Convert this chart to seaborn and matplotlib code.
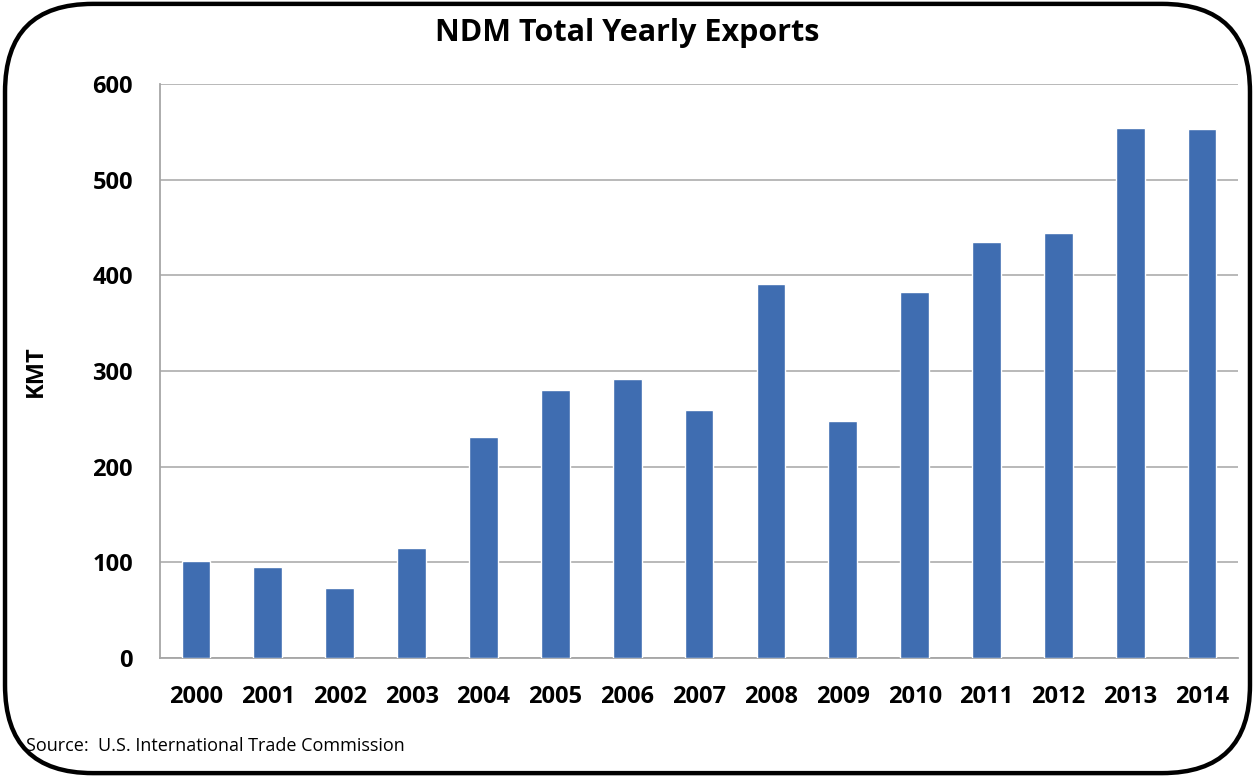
import matplotlib
matplotlib.use('Agg')
import matplotlib.pyplot as plt
import seaborn as sns
import pandas as pd
from matplotlib.patches import FancyBboxPatch

years = ['2000', '2001', '2002', '2003', '2004', '2005', '2006', '2007',
         '2008', '2009', '2010', '2011', '2012', '2013', '2014']
kmt = [101, 95, 73, 115, 231, 280, 292, 259, 391, 248, 383, 435, 444, 554, 553]
y_ticks = [0, 100, 200, 300, 400, 500, 600]

df = pd.DataFrame({'Year': years, 'KMT': kmt})

sns.set_style('white')
plt.rcParams['font.family'] = ['Open Sans', 'DejaVu Sans']
plt.rcParams['text.color'] = 'black'
plt.rcParams['xtick.color'] = 'black'
plt.rcParams['ytick.color'] = 'black'
plt.rcParams['axes.labelcolor'] = 'black'

fig = plt.figure(figsize=(12.55, 7.77), dpi=100)
ax = fig.add_axes([0.1275, 0.1532, 0.859, 0.7387])

sns.barplot(data=df, x='Year', y='KMT', color='#3F6DB1', width=0.4,
            saturation=1, ax=ax, zorder=3)

ax.set_ylim(0, 600)
ax.set_yticks(y_ticks)
ax.set_yticklabels([str(t) for t in y_ticks], fontsize=17, fontweight='bold')
ax.set_xticks(range(len(years)))
ax.set_xticklabels(years, fontsize=17, fontweight='bold')
ax.tick_params(axis='y', length=0, pad=19.5)
ax.tick_params(axis='x', length=0, pad=19.5)
ax.yaxis.grid(True, color='#B3B3B3', linewidth=1.3, zorder=0)
ax.set_axisbelow(True)
for s in ['top', 'right']:
    ax.spines[s].set_visible(False)
for s in ['left', 'bottom']:
    ax.spines[s].set_color('#A6A6A6')
    ax.spines[s].set_linewidth(1.3)
ax.set_xlabel('')
ax.set_ylabel('KMT', fontsize=17, fontweight='bold')
ax.yaxis.set_label_coords(-0.104, 0.5)

fig.text(0.5, 0.957, 'NDM Total Yearly Exports', ha='center', va='center',
         fontsize=22, fontweight='bold')
fig.text(0.021, 0.04, 'Source:  U.S. International Trade Commission',
         ha='left', va='center', fontsize=13)

frame = FancyBboxPatch((0.004, 0.005), 0.992, 0.99,
                       boxstyle='round,pad=0,rounding_size=0.07',
                       transform=fig.transFigure, fill=False,
                       edgecolor='black', linewidth=3.2,
                       mutation_aspect=1255 / 777)
fig.patches.append(frame)

fig.savefig('out.png', dpi=100)
